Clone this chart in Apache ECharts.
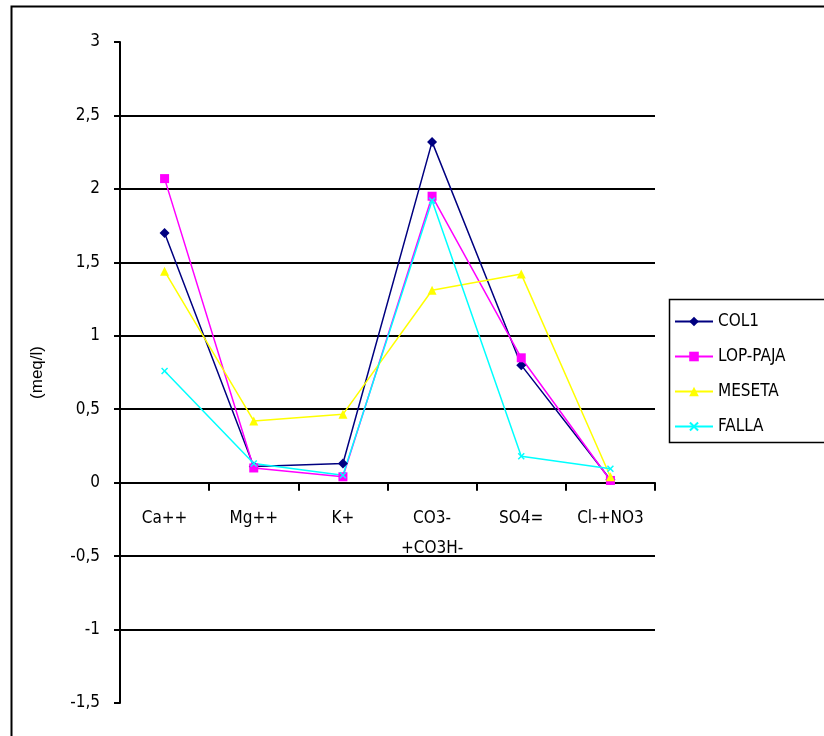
<!DOCTYPE html>
<html>
<head>
<meta charset="utf-8">
<style>
  html, body { margin: 0; padding: 0; background: #fff; }
  #chart { width: 824px; height: 736px; }
</style>
<script src="https://cdn.jsdelivr.net/npm/echarts@6/dist/echarts.min.js"></script>
</head>
<body>
<div id="chart"></div>
<script>
// Ion concentrations (meq/l) per sampling point
const categories = ['Ca++', 'Mg++', 'K+', 'CO3-\n+CO3H-', 'SO4=', 'Cl-+NO3'];
const col1     = [1.70, 0.11, 0.13, 2.32, 0.80, 0.02];
const lopPaja  = [2.07, 0.10, 0.04, 1.95, 0.85, 0.015];
const meseta   = [1.44, 0.42, 0.465, 1.31, 1.42, 0.04];
const falla    = [0.76, 0.13, 0.05, 1.92, 0.18, 0.095];

const FONT = '"Liberation Sans Narrow", "DejaVu Sans Condensed", "Liberation Sans", sans-serif';
const crossPath = 'path://M0,1.5L1.5,0L5,3.5L8.5,0L10,1.5L6.5,5L10,8.5L8.5,10L5,6.5L1.5,10L0,8.5L3.5,5Z';
const GRID = { left: 120, right: 169, top: 42, bottom: 33 };
const CHART_H = 736;

function lineSeries(name, data, color, symbol, size) {
  return {
    name: name,
    type: 'line',
    data: data,
    symbol: symbol,
    symbolSize: size,
    showSymbol: true,
    lineStyle: { color: color, width: 1.5 },
    itemStyle: { color: color },
    emphasis: { disabled: true },
    z: 3
  };
}

const chart = echarts.init(document.getElementById('chart'), null, { renderer: 'canvas' });
chart.setOption({
  animation: false,
  backgroundColor: '#fff',
  grid: Object.assign({ containLabel: false, outerBoundsMode: 'none' }, GRID),
  graphic: [
    {
      type: 'rect',
      shape: { x: 11.5, y: 6.5, width: 840, height: 760 },
      style: { fill: 'none', stroke: '#000', lineWidth: 2 },
      silent: true
    },
    {
      type: 'rect',
      shape: { x: 669.5, y: 299.5, width: 160, height: 143 },
      style: { fill: '#fff', stroke: '#000', lineWidth: 1.5 },
      silent: true,
      z: 0
    }
  ],
  legend: {
    orient: 'vertical',
    left: 674,
    top: 313,
    itemWidth: 38,
    itemHeight: 12,
    itemGap: 18,
    padding: 0,
    textStyle: { fontFamily: FONT, fontSize: 17, color: '#000' },
    data: ['COL1', 'LOP-PAJA', 'MESETA', 'FALLA'],
    z: 5
  },
  xAxis: {
    type: 'category',
    data: categories,
    boundaryGap: true,
    position: 'bottom',
    offset: 0,
    axisLine: { onZero: false, lineStyle: { color: '#000', width: 2 } },
    axisTick: { show: true, length: 8, inside: false, lineStyle: { color: '#000', width: 2 } },
    axisLabel: { fontFamily: FONT, fontSize: 17, color: '#000', margin: 21, lineHeight: 30, interval: 0 },
    splitLine: { show: false }
  },
  yAxis: {
    type: 'value',
    min: -1.5,
    max: 3,
    interval: 0.5,
    name: '(meq/l)',
    nameLocation: 'middle',
    nameGap: 74,
    nameRotate: 90,
    nameTextStyle: { fontFamily: '"Liberation Sans", sans-serif', fontSize: 17, color: '#000' },
    axisLine: { show: true, lineStyle: { color: '#000', width: 2 } },
    axisTick: { show: true, length: 6, lineStyle: { color: '#000', width: 2 } },
    axisLabel: {
      fontFamily: FONT, fontSize: 17, color: '#000', margin: 20,
      formatter: v => String(v).replace('.', ',')
    },
    splitLine: { show: true, showMinLine: false, showMaxLine: false, lineStyle: { color: '#000', width: 2 } }
  },
  series: [
    lineSeries('COL1', col1, '#000080', 'diamond', 10),
    lineSeries('LOP-PAJA', lopPaja, '#ff00ff', 'rect', 9),
    lineSeries('MESETA', meseta, '#ffff00', 'triangle', 9),
    lineSeries('FALLA', falla, '#00ffff', crossPath, 7)
  ]
});

// Place the category axis (line, ticks and labels) on the value-axis zero line
const zeroY = chart.convertToPixel({ yAxisIndex: 0 }, 0);
const gridBottomY = CHART_H - GRID.bottom;
chart.setOption({ xAxis: { offset: zeroY - gridBottomY } });
</script>
</body>
</html>
